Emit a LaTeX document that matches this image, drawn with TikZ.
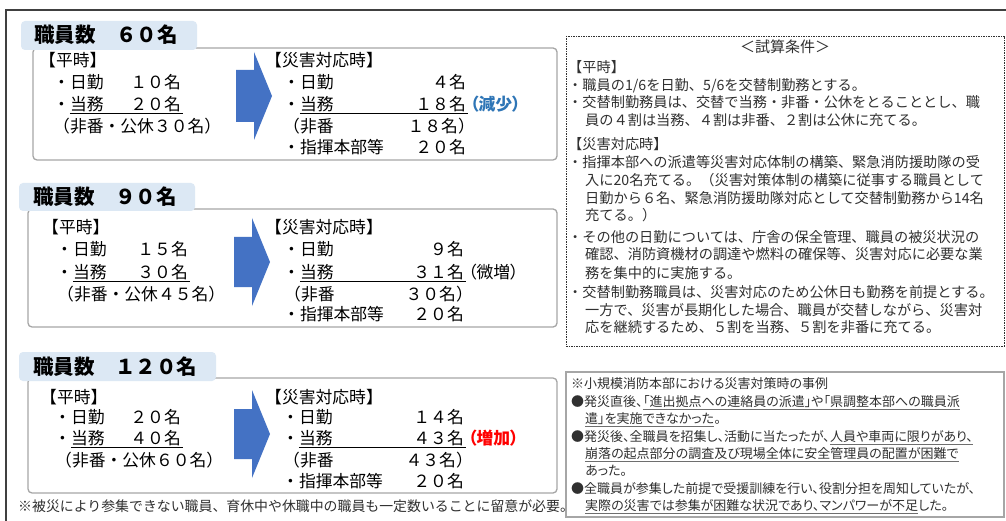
\documentclass[tikz,border=0pt]{standalone}
\usepackage{fontspec}
\setmainfont{Noto Sans CJK JP}
\newfontfamily\paltfont[RawFeature=+palt]{Noto Sans CJK JP}
\XeTeXlinebreaklocale "ja"
\XeTeXlinebreakskip=0pt plus 4pt
\definecolor{tabblue}{HTML}{DCE8F4}
\definecolor{boxgray}{HTML}{A6A6A6}
\definecolor{arrowblue}{HTML}{4472C4}
\definecolor{decblue}{HTML}{2E75B6}
\definecolor{incred}{HTML}{FF0000}
\definecolor{noteink}{HTML}{303030}
\definecolor{frameink}{HTML}{404040}
\newcommand\jline[2]{\makebox[#1][s]{#2}}
\tikzset{
  frameline/.style={draw=frameink, line width=1.3pt},
  panelbox/.style={draw=boxgray, line width=1.3pt, rounded corners=4pt, fill=white},
  tabbox/.style={fill=tabblue, rounded corners=4pt},
  ttl/.style={anchor=base west, inner sep=0pt, font=\fontsize{20.5}{24}\selectfont\bfseries},
  body/.style={anchor=base west, inner sep=0pt, font=\fontsize{16.8}{20}\selectfont},
  num/.style={anchor=base east, inner sep=0pt, font=\fontsize{16.8}{20}\selectfont},
  note/.style={anchor=base west, inner sep=0pt, font=\fontsize{16.8}{20}\selectfont\paltfont},
  bigarrow/.style={fill=arrowblue},
  uline/.style={line width=1pt, black},
  cond/.style={anchor=base west, inner sep=0pt, font=\fontsize{14.2}{16}\selectfont, text=noteink},
  case/.style={anchor=base west, inner sep=0pt, font=\fontsize{13}{15}\selectfont\paltfont, text=noteink},
  caseline/.style={line width=0.8pt, draw=noteink!70},
  foot/.style={anchor=base west, inner sep=0pt, font=\fontsize{13.9}{16}\selectfont, text=noteink},
  condbox/.style={draw=noteink, line width=0.8pt, dash pattern=on 1.5pt off 1pt},
  casebox/.style={draw=boxgray, line width=1.5pt},
}
\begin{document}
\begin{tikzpicture}[x=1pt,y=-1pt]
\useasboundingbox (0,0) rectangle (1006,521);
\fill[white] (0,0) rectangle (1006,521);
\draw[frameline] (6,521) -- (6,10) -- (1006,10);

% ---------- Panel 1 ----------
\draw[panelbox] (33,48) rectangle (557,160);
\fill[tabbox] (21,21) rectangle (197,50);
\node[ttl] (t1) at (34,43) {職員数　６０名};
\node[body] (p1h) at (39,67) {【平時】};
\node[body] (p1a) at (53,89) {・日勤};
\node[num] (p1an) at (181,89) {１０名};
\node[body] (p1b) at (53,111) {・当務};
\node[num] (p1bn) at (181,111) {２０名};
\draw[uline] ([xshift=16.8pt,yshift=-3pt]p1b.base west) -- ([xshift=2pt,yshift=-3pt]p1bn.base east);
\node[body] (p1c) at (53,133) {（非番・公休３０名）};
\fill[bigarrow] (236,70) -- (254,70) -- (254,52) -- (272,96) -- (254,140) -- (254,122) -- (236,122) -- cycle;
\node[body] (q1h) at (265,67) {【災害対応時】};
\node[body] (q1a) at (283,89) {・日勤};
\node[num] (q1an) at (466,89) {４名};
\node[body] (q1b) at (283,111) {・当務};
\node[num] (q1bn) at (466,111) {１８名};
\node[note, text=decblue, font=\fontsize{16.8}{20}\selectfont\paltfont\bfseries] (q1bx) at (470,111) {（減少）};
\draw[uline] ([xshift=16.8pt,yshift=-3pt]q1b.base west) -- ([xshift=2pt,yshift=-3pt]q1bn.base east);
\node[body] (q1c) at (283,133) {（非番};
\node[num] (q1cn) at (475,133) {１８名）};
\node[body] (q1d) at (283,154) {・指揮本部等};
\node[num] (q1dn) at (466,154) {２０名};

% ---------- Panel 2 ----------
\draw[panelbox] (28,209) rectangle (557,327);
\fill[tabbox] (19,183) rectangle (195,211);
\node[ttl] (t2) at (33,205) {職員数　９０名};
\node[body] (p2h) at (42,234) {【平時】};
\node[body] (p2a) at (56,256) {・日勤};
\node[num] (p2an) at (188,256) {１５名};
\node[body] (p2b) at (56,278) {・当務};
\node[num] (p2bn) at (188,278) {３０名};
\draw[uline] ([xshift=16.8pt,yshift=-3pt]p2b.base west) -- ([xshift=2pt,yshift=-3pt]p2bn.base east);
\node[body] (p2c) at (57,300) {（非番・公休４５名）};
\fill[bigarrow] (234,237) -- (252,237) -- (252,218) -- (270,262) -- (252,306) -- (252,287) -- (234,287) -- cycle;
\node[body] (q2h) at (265,234) {【災害対応時】};
\node[body] (q2a) at (283,256) {・日勤};
\node[num] (q2an) at (464,256) {９名};
\node[body] (q2b) at (283,278) {・当務};
\node[num] (q2bn) at (464,278) {３１名};
\node[note] (q2bx) at (468,278) {（微増）};
\draw[uline] ([xshift=16.8pt,yshift=-3pt]q2b.base west) -- ([xshift=2pt,yshift=-3pt]q2bn.base east);
\node[body] (q2c) at (284,300) {（非番};
\node[num] (q2cn) at (473,300) {３０名）};
\node[body] (q2d) at (283,320) {・指揮本部等};
\node[num] (q2dn) at (464,320) {２０名};

% ---------- Panel 3 ----------
\draw[panelbox] (28,378) rectangle (557,493);
\fill[tabbox] (19,352) rectangle (216,381);
\node[ttl] (t3) at (33,374) {職員数　１２０名};
\node[body] (p3h) at (40,403) {【平時】};
\node[body] (p3a) at (54,423) {・日勤};
\node[num] (p3an) at (181,423) {２０名};
\node[body] (p3b) at (54,444) {・当務};
\node[num] (p3bn) at (181,444) {４０名};
\draw[uline] ([xshift=16.8pt,yshift=-3pt]p3b.base west) -- ([xshift=2pt,yshift=-3pt]p3bn.base east);
\node[body] (p3c) at (55,466) {（非番・公休６０名）};
\fill[bigarrow] (234,409) -- (252,409) -- (252,390) -- (270,434) -- (252,478) -- (252,459) -- (234,459) -- cycle;
\node[body] (q3h) at (265,403) {【災害対応時】};
\node[body] (q3a) at (282,423) {・日勤};
\node[num] (q3an) at (464,423) {１４名};
\node[body] (q3b) at (282,444) {・当務};
\node[num] (q3bn) at (464,444) {４３名};
\node[note, text=incred, font=\fontsize{16.8}{20}\selectfont\paltfont\bfseries] (q3bx) at (468,444) {（増加）};
\draw[uline] ([xshift=16.8pt,yshift=-3pt]q3b.base west) -- ([xshift=2pt,yshift=-3pt]q3bn.base east);
\node[body] (q3c) at (283,466) {（非番};
\node[num] (q3cn) at (473,466) {４３名）};
\node[body] (q3d) at (282,487) {・指揮本部等};
\node[num] (q3dn) at (464,487) {２０名};

\node[foot] (ft) at (18,511) {※被災により参集できない職員、育休中や休職中の職員も一定数いることに留意が必要。};

% ---------- Conditions box ----------
\draw[condbox] (566,36) rectangle (1004,346);
\node[cond, anchor=base, font=\fontsize{15}{17}\selectfont] (k0) at (785,53) {＜試算条件＞};
\node[cond] (k1) at (568,73) {【平時】};
\node[cond] (k2) at (568,91) {・職員の1/6を日勤、5/6を交替制勤務とする。};
\node[cond] (k3) at (568,108) {\jline{432pt}{・交替制勤務員は、交替で当務・非番・公休をとることとし、職}};
\node[cond] (k4) at (585,126) {員の４割は当務、４割は非番、２割は公休に充てる。};
\node[cond] (k5) at (568,150) {【災害対応時】};
\node[cond] (k6) at (568,168) {\jline{432pt}{・指揮本部への派遣等災害対応体制の構築、緊急消防援助隊の受}};
\node[cond] (k7) at (585,186) {\jline{415pt}{入に20名充てる。（災害対策体制の構築に従事する職員として}};
\node[cond] (k8) at (585,204) {\jline{415pt}{日勤から６名、緊急消防援助隊対応として交替制勤務から14名}};
\node[cond] (k9) at (585,221) {充てる。）};
\node[cond] (k10) at (568,243) {\jline{432pt}{・その他の日勤については、庁舎の保全管理、職員の被災状況の}};
\node[cond] (k11) at (585,260) {\jline{415pt}{確認、消防資機材の調達や燃料の確保等、災害対応に必要な業}};
\node[cond] (k12) at (585,278) {務を集中的に実施する。};
\node[cond] (k13) at (568,297) {\jline{432pt}{・交替制勤務職員は、災害対応のため公休日も勤務を前提とする。}};
\node[cond] (k14) at (585,315) {\jline{415pt}{一方で、災害が長期化した場合、職員が交替しながら、災害対}};
\node[cond] (k15) at (585,332) {応を継続するため、５割を当務、５割を非番に充てる。};

% ---------- Case box ----------
\draw[casebox] (566,372) rectangle (1004,517);
\node[case] (c1) at (571,388) {※小規模消防本部における災害対策時の事例};
\node[case] (c2a) at (571,406) {●発災直後、};
\node[case] (c2b) at (c2a.base east) {「進出拠点への連絡員の派遣」や「県調整本部への職員派};
\draw[caseline] ([yshift=-3pt]c2b.base west) -- ([yshift=-3pt]c2b.base east);
\node[case] (c3a) at (585,423) {遣」を実施できなかった};
\node[case] (c3b) at (c3a.base east) {。};
\draw[caseline] ([yshift=-3pt]c3a.base west) -- ([yshift=-3pt]c3a.base east);
\node[case] (c4a) at (571,441) {●発災後、全職員を招集し、活動に当たったが、};
\node[case] (c4b) at (c4a.base east) {人員や車両に限りがあり、};
\draw[caseline] ([yshift=-3pt]c4b.base west) -- ([yshift=-3pt]c4b.base east);
\node[case] (c5) at (585,458) {崩落の起点部分の調査及び現場全体に安全管理員の配置が困難で};
\draw[caseline] ([yshift=-3pt]c5.base west) -- ([yshift=-3pt]c5.base east);
\node[case] (c6) at (585,475) {あった。};
\node[case] (c7) at (571,493) {●全職員が参集した前提で受援訓練を行い、役割分担を周知していたが、};
\node[case] (c8a) at (585,510) {実際の災害では参集が困難な状況であり、マンパワーが不足};
\node[case] (c8b) at (c8a.base east) {した。};
\draw[caseline] ([yshift=-3pt]c8a.base west) -- ([yshift=-3pt]c8a.base east);
\end{tikzpicture}
\end{document}
